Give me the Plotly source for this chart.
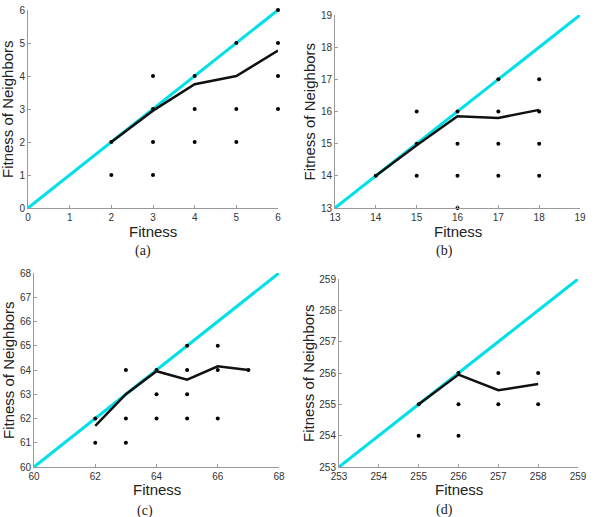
import plotly.graph_objects as go

# ---- data ----
a_pts_x = [2, 2, 3, 3, 3, 3, 4, 4, 4, 5, 5, 5, 6, 6, 6, 6]
a_pts_y = [1, 2, 1, 2, 3, 4, 2, 3, 4, 2, 3, 5, 3, 4, 5, 6]
a_mean_x = [2, 3, 4, 5, 6]
a_mean_y = [2.0, 2.95, 3.75, 4.0, 4.77]
a_range = [0, 6]

b_pts_x = [14, 15, 15, 15, 16, 16, 16, 16, 17, 17, 17, 17, 18, 18, 18, 18]
b_pts_y = [14, 14, 15, 16, 13, 14, 15, 16, 14, 15, 16, 17, 14, 15, 16, 17]
b_mean_x = [14, 15, 16, 17, 18]
b_mean_y = [14.0, 14.95, 15.85, 15.8, 16.05]
b_range = [13, 19]

c_pts_x = [62, 62, 63, 63, 63, 64, 64, 64, 65, 65, 65, 65, 66, 66, 66, 67]
c_pts_y = [61, 62, 61, 62, 64, 62, 63, 64, 62, 63, 64, 65, 62, 64, 65, 64]
c_mean_x = [62, 63, 64, 65, 66, 67]
c_mean_y = [61.7, 63.0, 63.95, 63.6, 64.15, 64.0]
c_range = [60, 68]

d_pts_x = [255, 255, 256, 256, 256, 257, 257, 258, 258]
d_pts_y = [254, 255, 254, 255, 256, 255, 256, 255, 256]
d_mean_x = [255, 256, 257, 258]
d_mean_y = [255.0, 255.95, 255.45, 255.65]
d_range = [253, 259]

x_title = "Fitness"
y_title = "Fitness of Neighbors"

panels = [
    ("(a)", a_pts_x, a_pts_y, a_mean_x, a_mean_y, a_range, 1, 1),
    ("(b)", b_pts_x, b_pts_y, b_mean_x, b_mean_y, b_range, 1, 1),
    ("(c)", c_pts_x, c_pts_y, c_mean_x, c_mean_y, c_range, 2, 1),
    ("(d)", d_pts_x, d_pts_y, d_mean_x, d_mean_y, d_range, 1, 1),
]

W, H = 596, 517
# plot-area pixel boxes (left, right, top, bottom)
boxes = [(28, 278, 10, 208), (335, 580, 15, 208), (34, 279, 273, 467), (339, 578, 279, 467)]
caption_xy = [(143, 251), (444, 251), (145, 511), (444, 510)]
xtitle_y = [231, 231, 490, 490]
ytitle_x = [8, 309, 8, 308]

fig = go.Figure()
layout = dict(width=W, height=H, margin=dict(l=0, r=0, t=0, b=0),
              paper_bgcolor="white", plot_bgcolor="white", showlegend=False,
              font=dict(family="Liberation Sans, Arial, sans-serif", color="#222"))
annotations = []
for i, (cap, px, py, mx, my, rng, dtx, dty) in enumerate(panels):
    k = "" if i == 0 else str(i + 1)
    xa, ya = "x" + k, "y" + k
    l, r, t, b = boxes[i]
    axcommon = dict(range=rng, showgrid=False, zeroline=False, automargin=False,
                    showline=True, linecolor="#9a9a9a", linewidth=1,
                    ticks="inside", ticklen=3, tickcolor="#9a9a9a",
                    tickfont=dict(size=10, color="#333"))
    layout["xaxis" + k] = dict(axcommon, dtick=dtx, domain=[l / W, r / W], anchor=ya)
    layout["yaxis" + k] = dict(axcommon, dtick=dty, domain=[1 - b / H, 1 - t / H], anchor=xa)
    fig.add_trace(go.Scatter(x=rng, y=rng, mode="lines", xaxis=xa, yaxis=ya,
                             line=dict(color="#00e0e8", width=3), cliponaxis=False))
    fig.add_trace(go.Scatter(x=px, y=py, mode="markers", xaxis=xa, yaxis=ya,
                             marker=dict(color="black", size=4), cliponaxis=False))
    fig.add_trace(go.Scatter(x=mx, y=my, mode="lines", xaxis=xa, yaxis=ya,
                             line=dict(color="#111", width=2.5), cliponaxis=False))
    annotations.append(dict(text=x_title, x=(l + r) / 2 / W, y=1 - xtitle_y[i] / H,
                            xref="paper", yref="paper", showarrow=False,
                            xanchor="center", yanchor="middle",
                            font=dict(size=15, color="#222")))
    annotations.append(dict(text=y_title, x=ytitle_x[i] / W, y=1 - (t + b) / 2 / H,
                            xref="paper", yref="paper", showarrow=False, textangle=-90,
                            xanchor="center", yanchor="middle",
                            font=dict(size=15, color="#222")))
    cx, cy = caption_xy[i]
    annotations.append(dict(text=cap, x=cx / W, y=1 - cy / H,
                            xref="paper", yref="paper", showarrow=False,
                            xanchor="center", yanchor="middle",
                            font=dict(family="Liberation Serif, Times New Roman, serif", size=14, color="#222")))
layout["annotations"] = annotations
fig.update_layout(**layout)
fig.write_html("out.html")
